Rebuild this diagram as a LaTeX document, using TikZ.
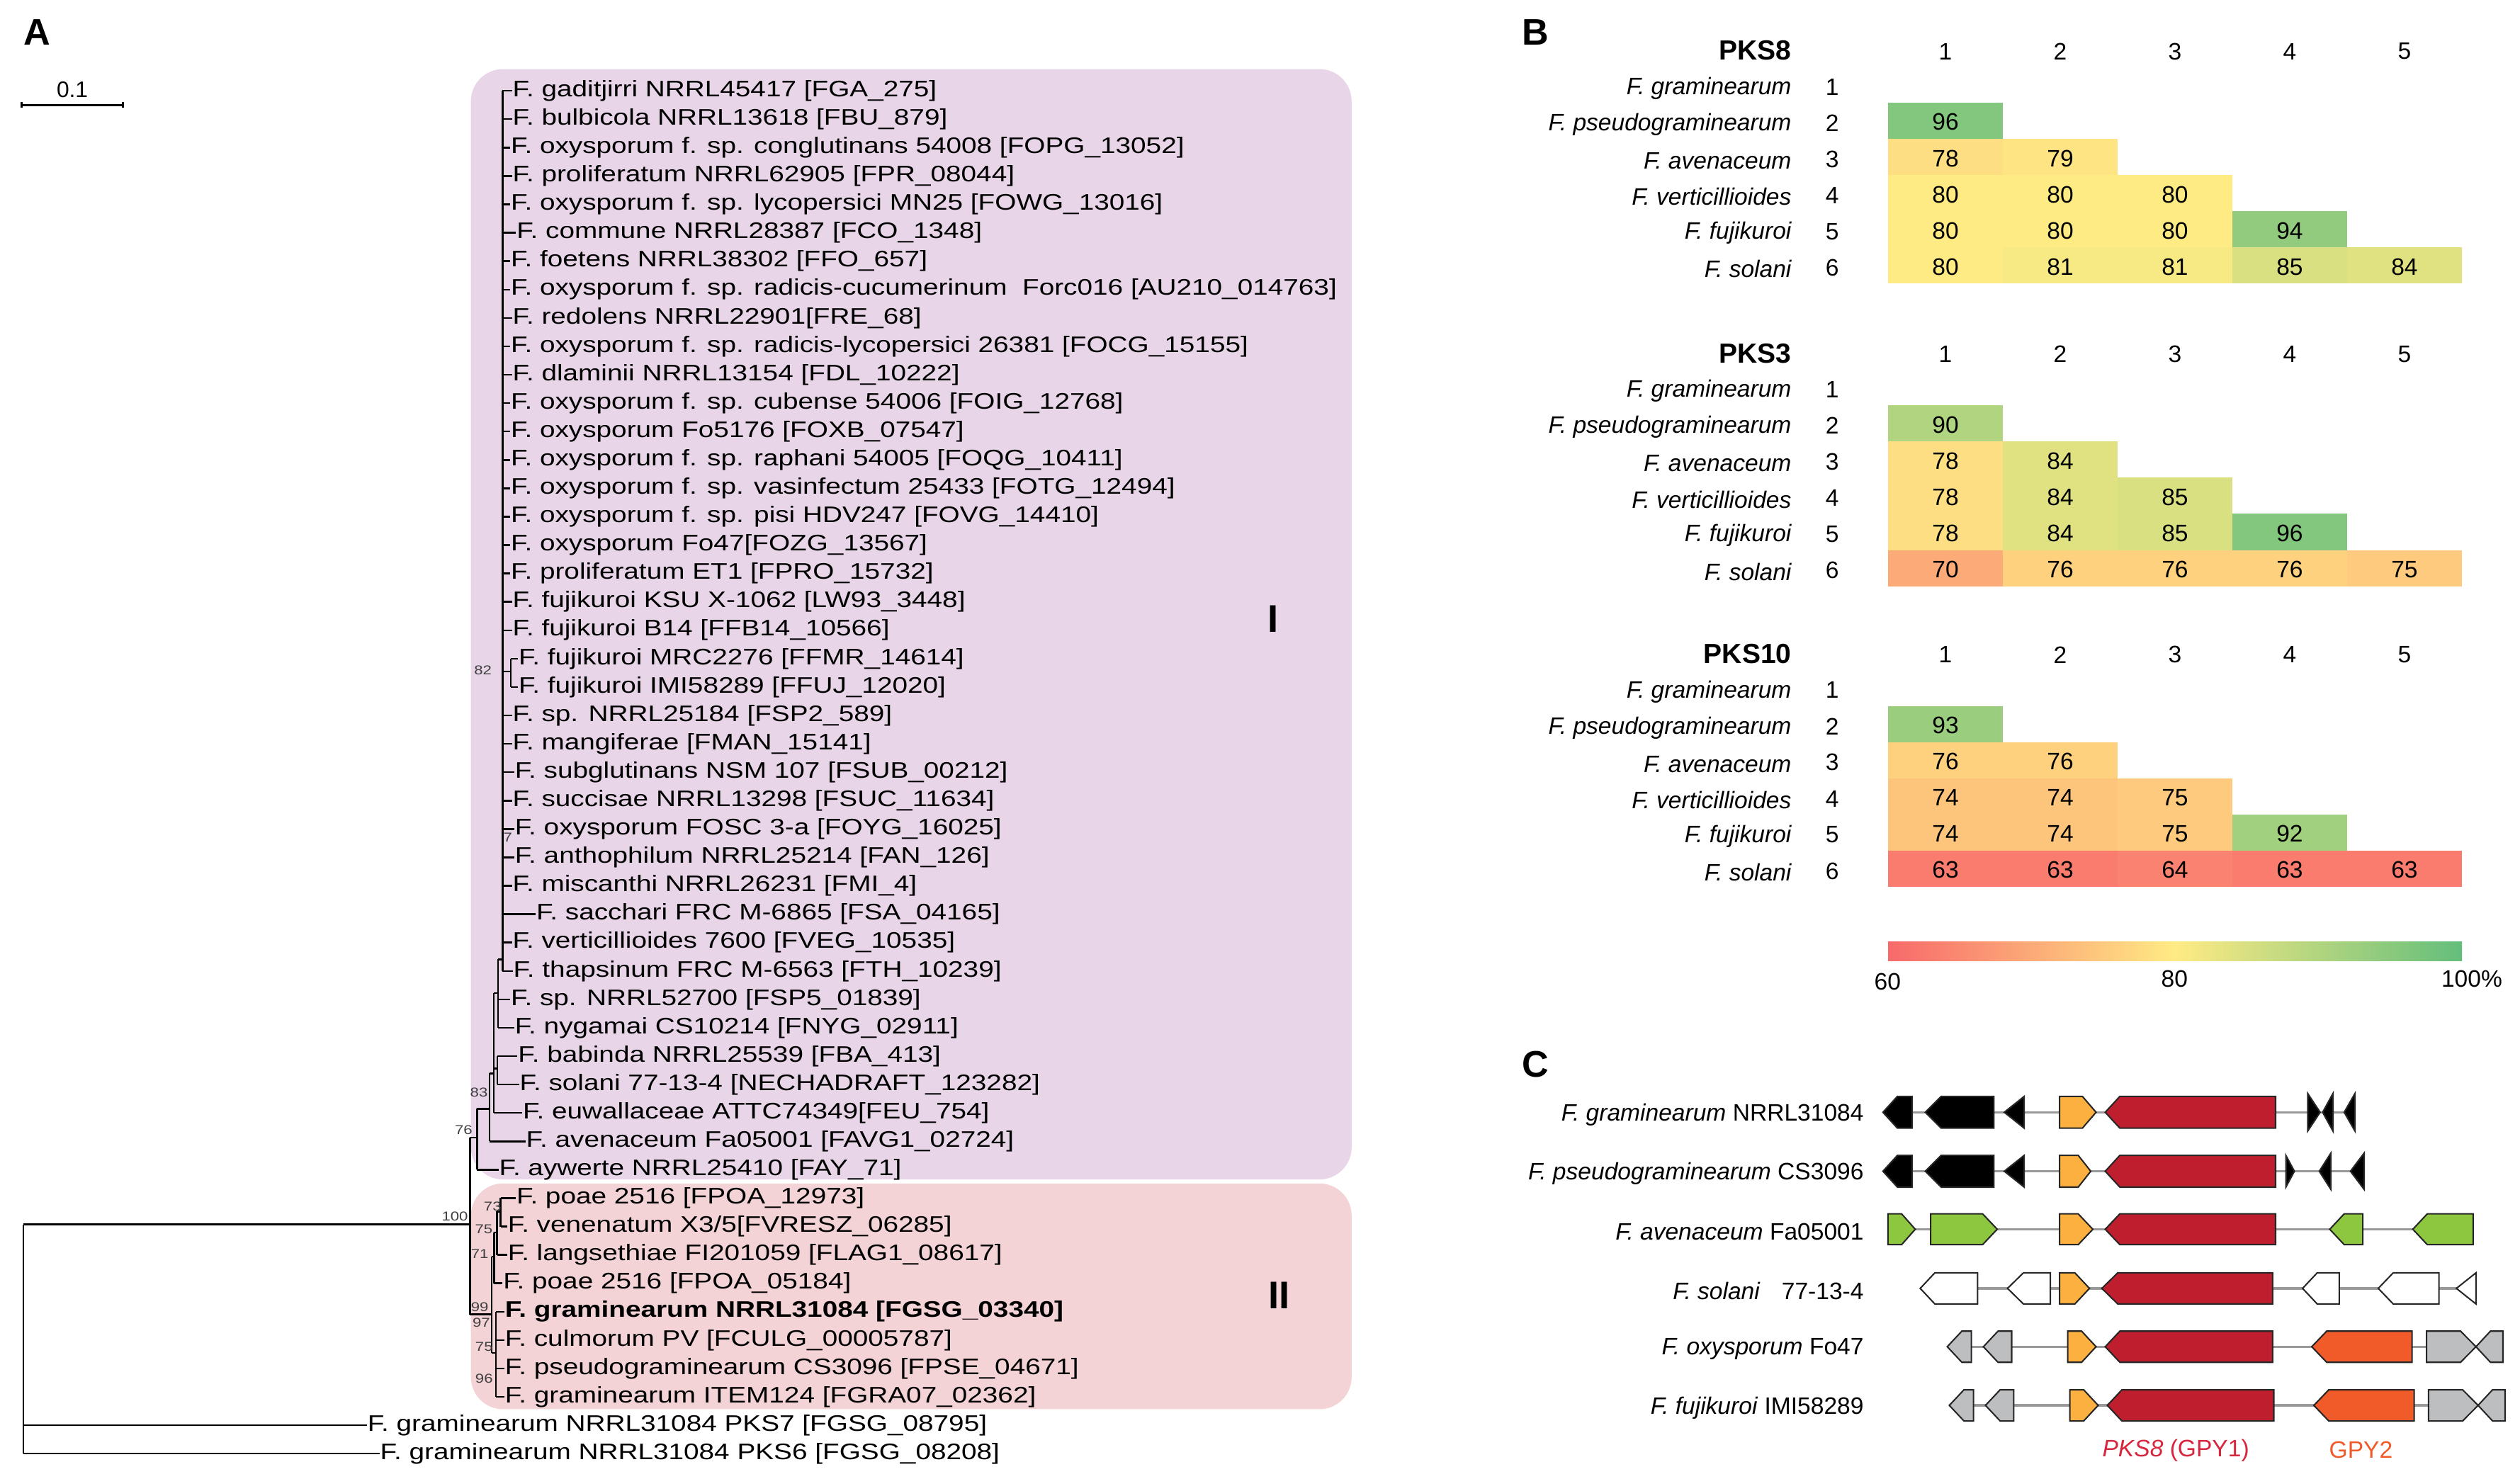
\documentclass[tikz,border=0pt]{standalone}
\usepackage{fontspec}
\setmainfont{Liberation Sans}
\newfontfamily\treefont[FakeStretch=1.22]{Liberation Sans}
\definecolor{lilac}{RGB}{232,213,232}
\definecolor{pinkbox}{RGB}{243,211,214}
\definecolor{lowred}{HTML}{F8696B}
\definecolor{midyel}{HTML}{FFEB84}
\definecolor{higreen}{HTML}{63BE7B}
\definecolor{pksred}{HTML}{BE1E2D}
\definecolor{orng}{HTML}{FBB040}
\definecolor{grn}{HTML}{8DC63F}
\definecolor{gpy}{HTML}{F15A29}
\definecolor{ggray}{HTML}{BCBEC0}
\definecolor{pkslab}{HTML}{D7263D}
\tikzset{
 tr/.style={line width=0.55pt},
 tlab/.style={anchor=west, inner sep=0pt, font=\treefont\fontsize{7}{8}\selectfont},
 bs/.style={inner sep=0pt, font=\treefont\fontsize{4}{4}\selectfont, text=black!75},
 plet/.style={inner sep=0pt, font=\bfseries\fontsize{11.5}{13}\selectfont},
 rowlab/.style={anchor=east, inner sep=0pt, font=\itshape\fontsize{7.4}{9}\selectfont},
 num/.style={inner sep=0pt, font=\fontsize{7.4}{9}\selectfont},
 htitle/.style={anchor=east, inner sep=0pt, font=\bfseries\fontsize{8.6}{10}\selectfont},
 gene/.style={draw=black!85, line width=0.45pt, line join=miter},
 bbone/.style={draw=black!40, line width=0.75pt},
 clab/.style={anchor=east, inner sep=0pt, font=\fontsize{7.4}{9}\selectfont},
 clade/.style={inner sep=0pt, font=\bfseries\fontsize{12}{12}\selectfont},
}
\newcommand\tl[3]{\node[tlab] (t#1) at (#2,{56.5+17.67*(#1-1)}) {#3};}
\newcommand\hcell[5]{%
  \pgfmathsetmacro\hx{1174.8+71.4*(#4-1)}%
  \pgfmathsetmacro\hy{#2+22.5*(#3-2)}%
  \ifnum#5<80
    \pgfmathtruncatemacro\hp{(#5-60)*5}%
    \colorlet{hcol}{midyel!\hp!lowred}%
  \else
    \pgfmathtruncatemacro\hp{(#5-80)*5}%
    \colorlet{hcol}{higreen!\hp!midyel}%
  \fi
  \fill[hcol] (\hx,\hy) rectangle ++(71.4,22.5);
  \node[num] (#1-#3-#4) at (\hx+35.7,\hy+12) {#5};
}
\newcommand\hblock[3]{%
  \node[htitle] (#1-title) at (1115,#2-32.5) {#3};
  \foreach \c in {1,...,5} {\node[num] (#1-h\c) at ({1174.8+71.4*(\c-0.5)},#2-32) {\c};}
  \foreach \r/\nm in {1/F. graminearum,2/F. pseudograminearum,3/F. avenaceum,4/F. verticillioides,5/F. fujikuroi,6/F. solani} {
    \node[rowlab] (#1-l\r) at (1115,{#2+22.5*(\r-2)+13.5}) {\nm};
    \node[num] (#1-n\r) at (1140,{#2+22.5*(\r-2)+12.5}) {\r};
  }
}
% right-pointing gene: fill, left, shoulder, tip, y, half height
\newcommand\gR[6]{\filldraw[gene, fill=#1] (#2,#5-#6) -- (#3,#5-#6) -- (#4,#5) -- (#3,#5+#6) -- (#2,#5+#6) -- cycle;}
% left-pointing gene: fill, tip, shoulder, right, y, half height
\newcommand\gL[6]{\filldraw[gene, fill=#1] (#2,#5) -- (#3,#5-#6) -- (#4,#5-#6) -- (#4,#5+#6) -- (#3,#5+#6) -- cycle;}

\begin{document}
\begin{tikzpicture}[x=0.5pt,y=-0.5pt]
\useasboundingbox (0,0) rectangle (1568,920);

% ================= Panel A =================
\node[plet] (pA) at (23,20) {A};
\coordinate (sb1) at (13.5,65.4);
\coordinate (sb2) at (76.5,65.4);
\draw[tr] (sb1) -- (sb2);
\draw[tr] (13.5,63.3) -- (13.5,67.2);
\draw[tr] (76.5,63.3) -- (76.5,67.2);
\node[inner sep=0pt, font=\fontsize{7}{8}\selectfont] (sbl) at (45,56) {0.1};

\fill[lilac, rounded corners=10pt] (293,43) rectangle (841,734);
\fill[pinkbox, rounded corners=10pt] (293,736.5) rectangle (841,877);
\node[clade] (cI) at (792,385) {I};
\node[clade] (cII) at (796,806) {II};

\tl{1}{318.6}{F. gaditjirri NRRL45417 [FGA\_275]}
\tl{2}{318.6}{F. bulbicola NRRL13618 [FBU\_879]}
\tl{3}{317.5}{F. oxysporum f. sp. conglutinans 54008 [FOPG\_13052]}
\tl{4}{318.6}{F. proliferatum NRRL62905 [FPR\_08044]}
\tl{5}{317.5}{F. oxysporum f. sp. lycopersici MN25 [FOWG\_13016]}
\tl{6}{321.1}{F. commune NRRL28387 [FCO\_1348]}
\tl{7}{317.5}{F. foetens NRRL38302 [FFO\_657]}
\tl{8}{317.5}{F. oxysporum f. sp. radicis-cucumerinum\ \ Forc016 [AU210\_014763]}
\tl{9}{318.6}{F. redolens NRRL22901[FRE\_68]}
\tl{10}{317.5}{F. oxysporum f. sp. radicis-lycopersici 26381 [FOCG\_15155]}
\tl{11}{318.6}{F. dlaminii NRRL13154 [FDL\_10222]}
\tl{12}{317.5}{F. oxysporum f. sp. cubense 54006 [FOIG\_12768]}
\tl{13}{317.5}{F. oxysporum Fo5176 [FOXB\_07547]}
\tl{14}{317.5}{F. oxysporum f. sp. raphani 54005 [FOQG\_10411]}
\tl{15}{317.5}{F. oxysporum f. sp. vasinfectum 25433 [FOTG\_12494]}
\tl{16}{317.5}{F. oxysporum f. sp. pisi HDV247 [FOVG\_14410]}
\tl{17}{317.5}{F. oxysporum Fo47[FOZG\_13567]}
\tl{18}{317.5}{F. proliferatum ET1 [FPRO\_15732]}
\tl{19}{318.6}{F. fujikuroi KSU X-1062 [LW93\_3448]}
\tl{20}{318.6}{F. fujikuroi B14 [FFB14\_10566]}
\tl{21}{322.3}{F. fujikuroi MRC2276 [FFMR\_14614]}
\tl{22}{322.3}{F. fujikuroi IMI58289 [FFUJ\_12020]}
\tl{23}{318.6}{F. sp. NRRL25184 [FSP2\_589]}
\tl{24}{318.6}{F. mangiferae [FMAN\_15141]}
\tl{25}{320}{F. subglutinans NSM 107 [FSUB\_00212]}
\tl{26}{318.6}{F. succisae NRRL13298 [FSUC\_11634]}
\tl{27}{320}{F. oxysporum FOSC 3-a [FOYG\_16025]}
\tl{28}{320}{F. anthophilum NRRL25214 [FAN\_126]}
\tl{29}{318.6}{F. miscanthi NRRL26231 [FMI\_4]}
\tl{30}{333.3}{F. sacchari FRC M-6865 [FSA\_04165]}
\tl{31}{318.6}{F. verticillioides 7600 [FVEG\_10535]}
\tl{32}{319}{F. thapsinum FRC M-6563 [FTH\_10239]}
\tl{33}{317.5}{F. sp. NRRL52700 [FSP5\_01839]}
\tl{34}{320}{F. nygamai CS10214 [FNYG\_02911]}
\tl{35}{322}{F. babinda NRRL25539 [FBA\_413]}
\tl{36}{323}{F. solani 77-13-4 [NECHADRAFT\_123282]}
\tl{37}{325}{F. euwallaceae ATTC74349[FEU\_754]}
\tl{38}{327}{F. avenaceum Fa05001 [FAVG1\_02724]}
\tl{39}{310.2}{F. aywerte NRRL25410 [FAY\_71]}
\tl{40}{321}{F. poae 2516 [FPOA\_12973]}
\tl{41}{315.6}{F. venenatum X3/5[FVRESZ\_06285]}
\tl{42}{315.6}{F. langsethiae FI201059 [FLAG1\_08617]}
\tl{43}{312.7}{F. poae 2516 [FPOA\_05184]}
\tl{44}{313.9}{\bfseries F. graminearum NRRL31084 [FGSG\_03340]}
\tl{45}{313.9}{F. culmorum PV [FCULG\_00005787]}
\tl{46}{313.9}{F. pseudograminearum CS3096 [FPSE\_04671]}
\tl{47}{313.9}{F. graminearum ITEM124 [FGRA07\_02362]}
\tl{48}{228.3}{F. graminearum NRRL31084 PKS7 [FGSG\_08795]}
\tl{49}{236.2}{F. graminearum NRRL31084 PKS6 [FGSG\_08208]}

% tree: clade I backbone
\coordinate (nt) at (312.7,54);
\draw[tr] (t1.west -| nt) -- (t32.west -| nt);
\foreach \i in {1,2,3,4,5,6,7,8,9,10,11,12,13,14,15,16,17,18,19,20,23,24,25,26,27,28,29,30,31,32}
  {\draw[tr] (t\i.west -| nt) -- (t\i.west);}
\coordinate (n82) at (317.8,418);
\draw[tr] (n82 -| nt) -- (n82);
\draw[tr] (t21.west -| n82) -- (t22.west -| n82);
\foreach \i in {21,22} {\draw[tr] (t\i.west -| n82) -- (t\i.west);}
\coordinate (na) at (310,597);
\draw[tr] (na) -- (na -| nt);
\draw[tr] (na) -- (t34.west -| na);
\foreach \i in {33,34} {\draw[tr] (t\i.west -| na) -- (t\i.west);}
\coordinate (nc) at (307.3,618);
\draw[tr] (nc) -- (nc -| na);
\draw[tr] (nc) -- (t37.west -| nc);
\draw[tr] (t37.west -| nc) -- (t37.west);
\coordinate (nb) at (309.5,665);
\draw[tr] (nb -| nc) -- (nb);
\draw[tr] (t35.west -| nb) -- (t36.west -| nb);
\foreach \i in {35,36} {\draw[tr] (t\i.west -| nb) -- (t\i.west);}
\coordinate (n83) at (304.6,668);
\draw[tr] (n83) -- (n83 -| nc);
\draw[tr] (n83) -- (t38.west -| n83);
\draw[tr] (t38.west -| n83) -- (t38.west);
\coordinate (n76) at (296.8,690);
\draw[tr] (n76) -- (n76 -| n83);
\draw[tr] (n76) -- (t39.west -| n76);
\draw[tr] (t39.west -| n76) -- (t39.west);
\coordinate (n100) at (292.4,708);
\coordinate (n100b) at (292.4,818);
\draw[tr] (n100) -- (n100 -| n76);
\draw[tr] (n100) -- (n100b);
\coordinate (root) at (14.6,762);
\draw[tr] (root) -- (root -| n100);
\draw[tr] (root) -- (t49.west -| root);
\foreach \i in {48,49} {\draw[tr] (t\i.west -| root) -- (t\i.west);}
% clade II
\coordinate (n73) at (311.5,754);
\draw[tr] (t40.west -| n73) -- (t41.west -| n73);
\foreach \i in {40,41} {\draw[tr] (t\i.west -| n73) -- (t\i.west);}
\coordinate (n75) at (309.3,754);
\draw[tr] (n75) -- (n73);
\draw[tr] (n75) -- (t42.west -| n75);
\draw[tr] (t42.west -| n75) -- (t42.west);
\coordinate (n71) at (307.4,767);
\draw[tr] (n71) -- (n71 -| n75);
\draw[tr] (n71) -- (t43.west -| n71);
\draw[tr] (t43.west -| n71) -- (t43.west);
\coordinate (n99) at (306,782);
\coordinate (n99b) at (306,842);
\draw[tr] (n99) -- (n99 -| n71);
\draw[tr] (n99) -- (n99b);
\draw[tr] (n100b) -- (n100b -| n99);
\coordinate (n96) at (308.6,842);
\draw[tr] (n99b) -- (n96);
\draw[tr] (t44.west -| n96) -- (t47.west -| n96);
\foreach \i in {44,45,46,47} {\draw[tr] (t\i.west -| n96) -- (t\i.west);}
% bootstrap values
\node[bs] (b82) at (300.5,417) {82};
\node[bs] (b7) at (316,521) {7};
\node[bs] (b83) at (298,680) {83};
\node[bs] (b76) at (288.5,703) {76};
\node[bs] (b100) at (283,757) {100};
\node[bs] (b73) at (306.5,751) {73};
\node[bs] (b75a) at (301,765) {75};
\node[bs] (b71) at (298.5,780.5) {71};
\node[bs] (b99) at (298.5,813.5) {99};
\node[bs] (b97) at (299.5,823) {97};
\node[bs] (b75b) at (301.2,838) {75};
\node[bs] (b96) at (301.2,858) {96};

% ================= Panel B =================
\node[plet] (pB) at (955.6,20) {B};
\hblock{p8}{64}{PKS8}
\hcell{p8}{64}{2}{1}{96}
\hcell{p8}{64}{3}{1}{78}\hcell{p8}{64}{3}{2}{79}
\hcell{p8}{64}{4}{1}{80}\hcell{p8}{64}{4}{2}{80}\hcell{p8}{64}{4}{3}{80}
\hcell{p8}{64}{5}{1}{80}\hcell{p8}{64}{5}{2}{80}\hcell{p8}{64}{5}{3}{80}\hcell{p8}{64}{5}{4}{94}
\hcell{p8}{64}{6}{1}{80}\hcell{p8}{64}{6}{2}{81}\hcell{p8}{64}{6}{3}{81}\hcell{p8}{64}{6}{4}{85}\hcell{p8}{64}{6}{5}{84}

\hblock{p3}{252.3}{PKS3}
\hcell{p3}{252.3}{2}{1}{90}
\hcell{p3}{252.3}{3}{1}{78}\hcell{p3}{252.3}{3}{2}{84}
\hcell{p3}{252.3}{4}{1}{78}\hcell{p3}{252.3}{4}{2}{84}\hcell{p3}{252.3}{4}{3}{85}
\hcell{p3}{252.3}{5}{1}{78}\hcell{p3}{252.3}{5}{2}{84}\hcell{p3}{252.3}{5}{3}{85}\hcell{p3}{252.3}{5}{4}{96}
\hcell{p3}{252.3}{6}{1}{70}\hcell{p3}{252.3}{6}{2}{76}\hcell{p3}{252.3}{6}{3}{76}\hcell{p3}{252.3}{6}{4}{76}\hcell{p3}{252.3}{6}{5}{75}

\hblock{p10}{439.5}{PKS10}
\hcell{p10}{439.5}{2}{1}{93}
\hcell{p10}{439.5}{3}{1}{76}\hcell{p10}{439.5}{3}{2}{76}
\hcell{p10}{439.5}{4}{1}{74}\hcell{p10}{439.5}{4}{2}{74}\hcell{p10}{439.5}{4}{3}{75}
\hcell{p10}{439.5}{5}{1}{74}\hcell{p10}{439.5}{5}{2}{74}\hcell{p10}{439.5}{5}{3}{75}\hcell{p10}{439.5}{5}{4}{92}
\hcell{p10}{439.5}{6}{1}{63}\hcell{p10}{439.5}{6}{2}{63}\hcell{p10}{439.5}{6}{3}{64}\hcell{p10}{439.5}{6}{4}{63}\hcell{p10}{439.5}{6}{5}{63}

\shade[left color=lowred, right color=higreen, middle color=midyel] (1174.8,586) rectangle (1531.9,597.8);
\node[num] (cb60) at (1174.5,611) {60};
\node[num] (cb80) at (1353,609) {80};
\node[num] (cb100) at (1538,609) {100\%};

% ================= Panel C =================
\node[plet] (pC) at (955.6,662.4) {C};
% backbones
\draw[bbone] (1171.6,692.2) -- (1465.3,692.2);
\draw[bbone] (1171.6,728.9) -- (1471,728.9);
\draw[bbone] (1174.7,765) -- (1538.8,765);
\draw[bbone] (1194.8,801.8) -- (1540.6,801.8);
\draw[bbone] (1211.6,838.1) -- (1557.4,838.1);
\draw[bbone] (1212.9,874.6) -- (1558.7,874.6);
% row 1
\gL{black}{1171.6}{1180.6}{1189.7}{692.2}{9.9}
\gL{black}{1197.9}{1207.8}{1240.6}{692.2}{9.9}
\gL{black}{1247.1}{1259.5}{1259.5}{692.2}{9.9}
\gR{orng}{1281.5}{1295.7}{1304.2}{692.2}{9.9}
\gL{pksred}{1309.9}{1319}{1415.9}{692.2}{9.9}
\gR{black}{1435.9}{1435.9}{1443.6}{692.2}{11.7}
\gL{black}{1445.2}{1451.6}{1451.6}{692.2}{11.7}
\gL{black}{1458.6}{1465.3}{1465.3}{692.2}{11.7}
% row 2
\gL{black}{1171.6}{1180.6}{1189.7}{728.9}{9.9}
\gL{black}{1197.9}{1207.8}{1240.6}{728.9}{9.9}
\gL{black}{1247.1}{1259.5}{1259.5}{728.9}{9.9}
\gR{orng}{1281.5}{1293.1}{1300.9}{728.9}{9.9}
\gL{pksred}{1309.9}{1319}{1415.9}{728.9}{9.9}
\gR{black}{1422.4}{1422.4}{1427.6}{728.9}{9.7}
\gL{black}{1443.1}{1450.3}{1450.3}{728.9}{11.3}
\gL{black}{1462.5}{1471}{1471}{728.9}{11.3}
% row 3
\gR{grn}{1174.7}{1183.2}{1191.7}{765}{9.6}
\gR{grn}{1201.3}{1233.6}{1242.7}{765}{9.6}
\gR{orng}{1281.5}{1293.1}{1302.2}{765}{9.6}
\gL{pksred}{1309.9}{1319}{1415.9}{765}{9.6}
\gL{grn}{1449.6}{1458.6}{1470.2}{765}{9.6}
\gL{grn}{1501.3}{1510.3}{1538.8}{765}{9.6}
% row 4
\gL{white}{1194.8}{1203.9}{1230.5}{801.8}{9.7}
\gL{white}{1249.1}{1259}{1275.8}{801.8}{9.7}
\gR{orng}{1281.5}{1291}{1300.1}{801.8}{9.7}
\gL{pksred}{1307.8}{1317.7}{1414.1}{801.8}{9.7}
\gL{white}{1432.7}{1441.8}{1455.5}{801.8}{9.7}
\gL{white}{1479.8}{1489.1}{1517.6}{801.8}{9.7}
\gL{white}{1528.4}{1540.6}{1540.6}{801.8}{9.7}
% row 5
\gL{ggray}{1211.6}{1220.7}{1226.6}{838.1}{9.7}
\gL{ggray}{1234.1}{1243.2}{1251.7}{838.1}{9.7}
\gR{orng}{1286.6}{1295.2}{1304.2}{838.1}{9.7}
\gL{pksred}{1309.9}{1319}{1414.1}{838.1}{9.7}
\gL{gpy}{1438.4}{1447.7}{1500.8}{838.1}{9.7}
\gR{ggray}{1509.8}{1531}{1540.6}{838.1}{9.7}
\gL{ggray}{1540.6}{1549.6}{1557.4}{838.1}{9.7}
% row 6
\gL{ggray}{1212.9}{1222}{1227.9}{874.6}{9.7}
\gL{ggray}{1235.4}{1244.5}{1253}{874.6}{9.7}
\gR{orng}{1287.9}{1296.5}{1305.5}{874.6}{9.7}
\gL{pksred}{1311.2}{1320.3}{1414.8}{874.6}{9.7}
\gL{gpy}{1439.7}{1449}{1502.1}{874.6}{9.7}
\gR{ggray}{1511.1}{1532.3}{1541.9}{874.6}{9.7}
\gL{ggray}{1541.9}{1550.9}{1558.7}{874.6}{9.7}
% labels
\node[clab] (c1) at (1160,693.7) {\textit{F. graminearum} NRRL31084};
\node[clab] (c2) at (1160,730.4) {\textit{F. pseudograminearum} CS3096};
\node[clab] (c3) at (1160,766.5) {\textit{F. avenaceum} Fa05001};
\node[clab] (c4) at (1160,803.3) {\textit{F. solani}\hspace{0.9em}77-13-4};
\node[clab] (c5) at (1160,839.6) {\textit{F. oxysporum} Fo47};
\node[clab] (c6) at (1160,876.1) {\textit{F. fujikuroi} IMI58289};
\node[num, text=pkslab] (lpks8) at (1353.8,902.5) {\textit{PKS8} (GPY1)};
\node[num, text=gpy] (lgpy2) at (1469,902.5) {GPY2};
\end{tikzpicture}
\end{document}
